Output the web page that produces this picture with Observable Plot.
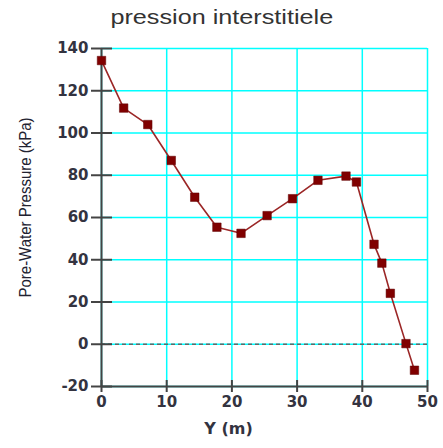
<!DOCTYPE html>
<html><head><meta charset="utf-8">
<script src="https://cdn.jsdelivr.net/npm/d3@7"></script>
<script src="https://cdn.jsdelivr.net/npm/@observablehq/plot@0.6"></script>
<style>
body{margin:0;background:#fff;width:443px;height:448px;overflow:hidden;}
#title{height:36px;line-height:34px;text-align:center;font-family:"Liberation Sans",Arial,sans-serif;font-size:21px;color:#333;}
#title span{display:inline-block;transform:scaleX(1.2);}
</style></head><body>
<div id="title"><span>pression interstitiele</span></div>
<div id="chart"></div>
<script>
const distances = [0, 3.4, 7.1, 10.7, 14.3, 17.7, 21.4, 25.4, 29.3, 33.2, 37.5, 39.1, 41.8, 43.0, 44.3, 46.7, 48.0];
const pressures = [134.3, 111.8, 104.0, 87.0, 69.6, 55.4, 52.5, 60.9, 68.9, 77.6, 79.6, 76.8, 47.3, 38.4, 24.1, 0.3, -12.3];
const xTicks = [0, 10, 20, 30, 40, 50];
const yTicks = [-20, 0, 20, 40, 60, 80, 100, 120, 140];
const xLabel = "Y (m)";
const yLabel = "Pore-Water Pressure (kPa)";

const data = distances.map((d, i) => ({x: d, y: pressures[i]}));
const tickFont = "DejaVu Sans, Verdana, sans-serif";

const chart = Plot.plot({
  width: 443,
  height: 412,
  marginLeft: 101,
  marginRight: 16,
  marginTop: 12,
  marginBottom: 62,
  style: {fontFamily: tickFont, fontSize: "15px", fontWeight: "bold", color: "#333340", background: "#fff"},
  x: {domain: [0, 50]},
  y: {domain: [-20, 140]},
  marks: [
    Plot.gridX(xTicks, {stroke: "#00ffff", strokeOpacity: 1, strokeWidth: 1.5}),
    Plot.gridY(yTicks, {stroke: "#00ffff", strokeOpacity: 1, strokeWidth: 1.5}),
    Plot.ruleY([0], {stroke: "#666", strokeDasharray: "4,3", strokeWidth: 1.5}),
    Plot.axisY(yTicks, {tickSize: 21, dx: 11, tickPadding: 3, label: null, tickFormat: d => String(d), stroke: "#444", strokeWidth: 2, fontWeight: "bold", fontSize: 15}),
    Plot.axisX(xTicks, {tickSize: 12, dy: -6, tickPadding: 4, label: null, tickFormat: d => String(d), stroke: "#444", strokeWidth: 2, fontWeight: "bold", fontSize: 15}),
    Plot.ruleX([0], {stroke: "#444", strokeWidth: 2}),
    Plot.ruleY([-20], {stroke: "#444", strokeWidth: 2}),
    Plot.line(data, {x: "x", y: "y", stroke: "#9b2626", strokeWidth: 1.6}),
    Plot.dot(data, {x: "x", y: "y", symbol: "square", r: 4.8, fill: "#800000", stroke: "#600000", strokeWidth: 0.5}),
    Plot.text([xLabel], {frameAnchor: "bottom", dx: -36, dy: 47, fontSize: 16, fontWeight: "bold", fill: "#333340"}),
    Plot.text([yLabel], {frameAnchor: "left", textAnchor: "middle", rotate: -90, dx: -76, dy: -10, fontSize: 17, fontWeight: "normal", fill: "#222230", fontFamily: "Liberation Sans, Arial, sans-serif", className: "ylab"})
  ]
});
document.getElementById("chart").appendChild(chart);
chart.querySelectorAll(".ylab text").forEach(t => {
  t.setAttribute("textLength", "180");
  t.setAttribute("lengthAdjust", "spacingAndGlyphs");
});
</script>
</body></html>
